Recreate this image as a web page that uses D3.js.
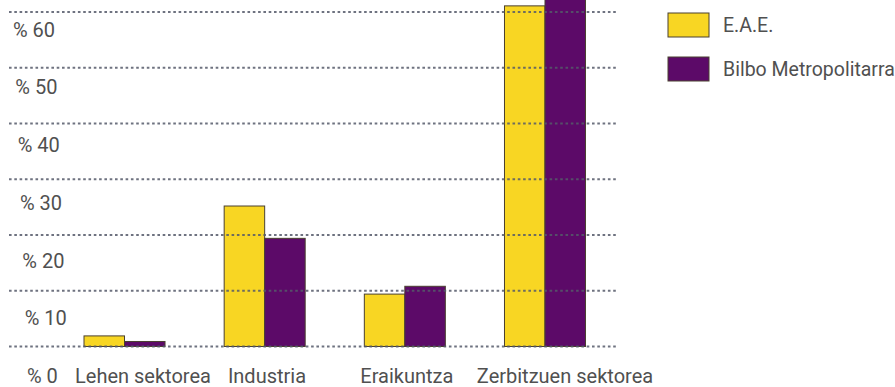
<!DOCTYPE html>
<html>
<head>
<meta charset="utf-8">
<script src="https://cdn.jsdelivr.net/npm/d3@7"></script>
<style>
  html, body { margin: 0; padding: 0; background: #ffffff; }
  svg { display: block; }
  text { font-family: Roboto, "Noto Sans", "DejaVu Sans", sans-serif; fill: #505050; }
</style>
</head>
<body>
<svg id="chart" width="895" height="387"></svg>
<script>
// Sector shares of employment (%)
const categories = ["Lehen sektorea", "Industria", "Eraikuntza", "Zerbitzuen sektorea"];
const seriesNames = ["E.A.E.", "Bilbo Metropolitarra"];
const eaeValues = [1.9, 25.2, 9.4, 61.1];
const bilboValues = [0.9, 19.4, 10.8, 68.9];
const tickValues = [0, 10, 20, 30, 40, 50, 60];
const tickLabels = ["% 0", "% 10", "% 20", "% 30", "% 40", "% 50", "% 60"];

const colors = { "E.A.E.": "#f8d623", "Bilbo Metropolitarra": "#5c0a68" };
const FONT = 20;

const svg = d3.select("#chart");
const seriesValues = [eaeValues, bilboValues];

// Scales
const x = d3.scaleBand().domain(categories).range([84, 585.5]).paddingInner(0.422).paddingOuter(0);
const xs = d3.scaleBand().domain(seriesNames).range([0, x.bandwidth()]).padding(0);
const y = d3.scaleLinear().domain([0, 60]).range([346.5, 12]);
// tick labels hang below their gridlines
const yLabel = d3.scaleLinear().domain([0, 60]).range([376, 29.5]);
const xLabel = d3.scaleLinear().domain([0, 60]).range([27, 13]);

// Bars
const groups = svg.append("g").selectAll("g")
  .data(categories)
  .join("g")
  .attr("transform", d => `translate(${x(d)},0)`);

groups.selectAll("rect")
  .data((d, i) => seriesNames.map((s, j) => ({ s, v: seriesValues[j][i] })))
  .join("rect")
  .attr("x", d => xs(d.s))
  .attr("y", d => y(d.v))
  .attr("width", xs.bandwidth())
  .attr("height", d => y(0) - y(d.v))
  .attr("fill", d => colors[d.s])
  .attr("stroke", "#4a4030")
  .attr("stroke-width", 1);

// Dotted gridlines, drawn over the bars
svg.append("g").selectAll("line")
  .data(tickValues)
  .join("line")
  .attr("x1", 9).attr("x2", 618)
  .attr("y1", d => y(d)).attr("y2", d => y(d))
  .attr("stroke", "#555a6a")
  .attr("stroke-width", 2)
  .attr("stroke-dasharray", "2.6,2.7")
  .attr("opacity", 0.85);

// Y tick labels
svg.append("g").selectAll("text")
  .data(tickValues)
  .join("text")
  .attr("x", d => xLabel(d))
  .attr("y", d => yLabel(d))
  .attr("dominant-baseline", "central")
  .attr("font-size", FONT)
  .text((d, i) => tickLabels[i]);

// Category labels
const labelShift = [18.5, 2.3, 2, 20];
svg.append("g").selectAll("text")
  .data(categories)
  .join("text")
  .attr("x", (d, i) => x(d) + x.bandwidth() / 2 + labelShift[i])
  .attr("y", 376)
  .attr("text-anchor", "middle")
  .attr("dominant-baseline", "central")
  .attr("font-size", FONT)
  .text(d => d);

// Legend
const legend = svg.append("g").selectAll("g")
  .data(seriesNames)
  .join("g")
  .attr("transform", (d, i) => `translate(668,${13 + i * 44})`);
legend.append("rect")
  .attr("width", 41).attr("height", 24)
  .attr("fill", d => colors[d])
  .attr("stroke", "#4a4030").attr("stroke-width", 1);
legend.append("text")
  .attr("x", 55).attr("y", 12)
  .attr("dominant-baseline", "central")
  .attr("font-size", 19.5)
  .text(d => d);
</script>
</body>
</html>
